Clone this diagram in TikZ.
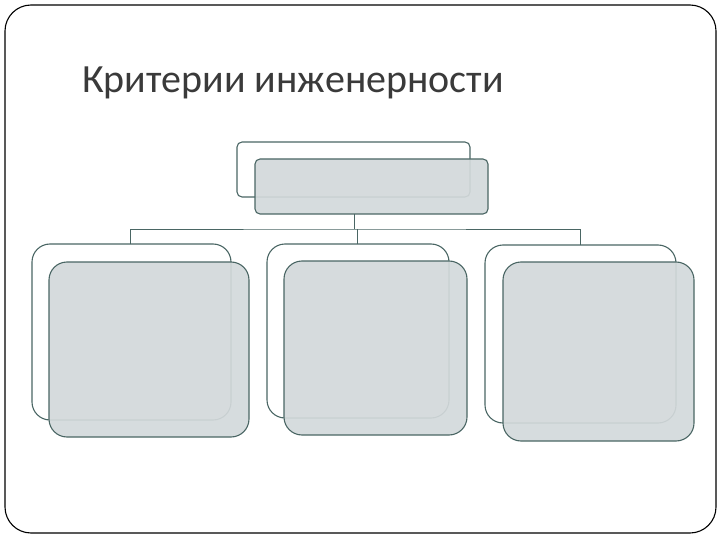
\documentclass[tikz,border=0pt]{standalone}
\usepackage{fontspec}
\setmainfont{Carlito}
\usetikzlibrary{positioning}

\definecolor{boxline}{HTML}{4A6664}
\definecolor{boxfill}{HTML}{D3D9DB}
\definecolor{titlegray}{HTML}{3A3A3A}

\tikzset{
	backbox/.style={draw=boxline, fill=white, line width=1.1pt, anchor=north west, inner sep=0pt, outer sep=0pt},
	frontbox/.style={draw=boxline, fill=boxfill, fill opacity=0.92, draw opacity=1, line width=1.1pt, anchor=north west, inner sep=0pt, outer sep=0pt},
	wire/.style={draw=boxline, line width=0.8pt}
}

\begin{document}
\begin{tikzpicture}[x=1pt, y=-1pt]
	\useasboundingbox (0,0) rectangle (720,540);
	% slide frame
	\draw [line width=1.1pt, rounded corners=26pt] (5,5) rectangle (716,533);
	\node [anchor=base west, inner sep=0pt, text=titlegray, font=\fontsize{40}{48}\selectfont] (title) at (82,93) {Критерии инженерности};
	% top box
	\node [backbox, rounded corners=5pt, minimum width=233pt, minimum height=55pt] (topb) at (237,142) {};
	\node [frontbox, rounded corners=5pt, minimum width=233pt, minimum height=55pt] (topf) at (255,159) {};
	% three lower boxes
	\node [backbox, rounded corners=18pt, minimum width=199pt, minimum height=176pt] (leftb) at (32,244) {};
	\node [backbox, rounded corners=18pt, minimum width=182pt, minimum height=174pt] (midb) at (267,244) {};
	\node [backbox, rounded corners=18pt, minimum width=191pt, minimum height=178pt] (rightb) at (485,245) {};
	\node [frontbox, rounded corners=18pt, minimum width=200pt, minimum height=175pt] (leftf) at (49,262) {};
	\node [frontbox, rounded corners=18pt, minimum width=183pt, minimum height=174pt] (midf) at (284,261) {};
	\node [frontbox, rounded corners=18pt, minimum width=191pt, minimum height=179pt] (rightf) at (503,262) {};
	% connectors
	\coordinate (bus) at (354,229);
	\draw [wire] (topf.south -| bus) -- (bus);
	\draw [wire] ([xshift=-1pt]leftb.north) |- (bus) -| (rightb.north);
	\draw [wire] ([xshift=-1pt]midb.north) -- ([xshift=-1pt]midb.north |- bus);
\end{tikzpicture}
\end{document}
